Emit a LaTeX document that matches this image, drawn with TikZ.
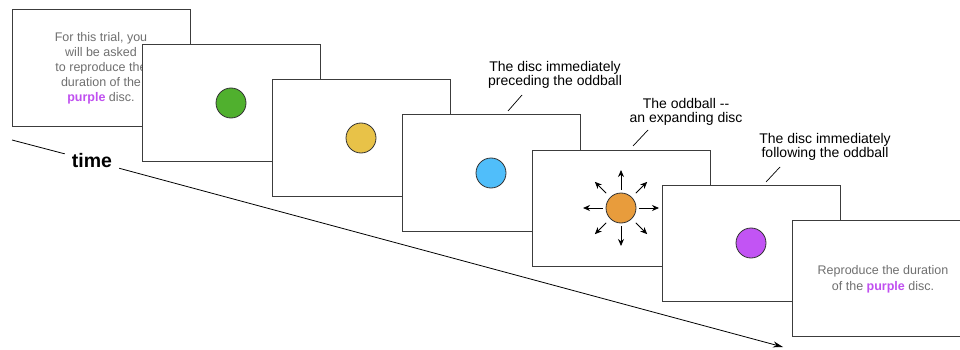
\documentclass[tikz,border=0pt]{standalone}
\usepackage{fontspec}
\setmainfont{Liberation Sans}
\usetikzlibrary{arrows.meta}

\definecolor{framegray}{RGB}{60,60,60}
\definecolor{textgray}{RGB}{112,112,112}
\definecolor{accentpurple}{RGB}{192,80,240}
\definecolor{discgreen}{RGB}{80,176,46}
\definecolor{discyellow}{RGB}{232,194,72}
\definecolor{discblue}{RGB}{80,190,250}
\definecolor{discorange}{RGB}{232,156,60}
\definecolor{discpurple}{RGB}{194,84,244}

\tikzset{
  screen/.style={draw=framegray, line width=1pt, fill=white, rectangle,
    minimum width=178pt, minimum height=116pt, inner sep=0pt},
  disc/.style={draw=black!80, line width=0.8pt, circle, minimum size=30pt, inner sep=0pt},
  screentext/.style={text=textgray, align=center, font=\fontsize{12.5}{15}\selectfont},
  callout/.style={text=black, align=center, font=\fontsize{14}{14.5}\selectfont},
  pointer/.style={draw=black, line width=0.7pt},
  burst/.style={draw=black, line width=0.8pt, -{Stealth[length=7pt,width=6pt]}},
  timeline/.style={draw=black, line width=0.8pt},
}
\newcommand{\purpleword}{\textcolor{accentpurple}{\bfseries purple}}

\begin{document}
\begin{tikzpicture}[x=1pt, y=-1pt]
\useasboundingbox (0,0) rectangle (960,350);

% time axis, interrupted by its label
\coordinate (tstart) at (12,140);
\coordinate (tend) at (783,347);
\node[font=\fontsize{19.5}{19.5}\bfseries\selectfont, inner xsep=7pt, inner ysep=3pt] (timelbl) at (92,161) {time};
\draw[timeline] (tstart) -- (timelbl);
\draw[timeline, -{Stealth[length=10pt,width=6pt]}] (timelbl) -- (tend);

% stack of screens, each 130 right and 35 down from the previous one
\node[screen] (s1) at (101,68) {};
\node[screentext] at (s1.center) {For this trial, you\\will be asked\\to reproduce the\\duration of the\\\purpleword{} disc.};

\node[screen] (s2) at (231,103) {};
\node[disc, fill=discgreen] (d2) at (s2.center) {};

\node[screen] (s3) at (361,138) {};
\node[disc, fill=discyellow] (d3) at (s3.center) {};

\node[screen] (s4) at (491,173) {};
\node[disc, fill=discblue] (d4) at (s4.center) {};

\node[screen] (s5) at (621,208) {};
\node[disc, fill=discorange] (d5) at (s5.center) {};
\foreach \a in {0,90,180,270}
  \draw[burst] ([shift={(\a:18)}]d5.center) -- ([shift={(\a:38)}]d5.center);
\foreach \a in {45,135,225,315}
  \draw[burst] ([shift={(\a:21)}]d5.center) -- ([shift={(\a:37)}]d5.center);

\node[screen] (s6) at (751,243) {};
\node[disc, fill=discpurple] (d6) at (s6.center) {};

\node[screen] (s7) at (881,278) {};
\node[screentext, font=\fontsize{12.5}{16}\selectfont] at (883,279) {Reproduce the duration\\of the \purpleword{} disc.};

% callouts
\node[callout] (c4) at (555,75) {The disc immediately\\preceding the oddball};
\coordinate (c4a) at (522,95);
\coordinate (c4b) at (508,111);
\draw[pointer] (c4a) -- (c4b);

\node[callout] (c5) at (686,112) {The oddball \mbox{-}\mbox{-}\\an expanding disc};
\coordinate (c5a) at (648,130);
\coordinate (c5b) at (633,146);
\draw[pointer] (c5a) -- (c5b);

\node[callout] (c6) at (825,147) {The disc immediately\\following the oddball};
\coordinate (c6a) at (780,167);
\coordinate (c6b) at (766,182);
\draw[pointer] (c6a) -- (c6b);
\end{tikzpicture}
\end{document}
